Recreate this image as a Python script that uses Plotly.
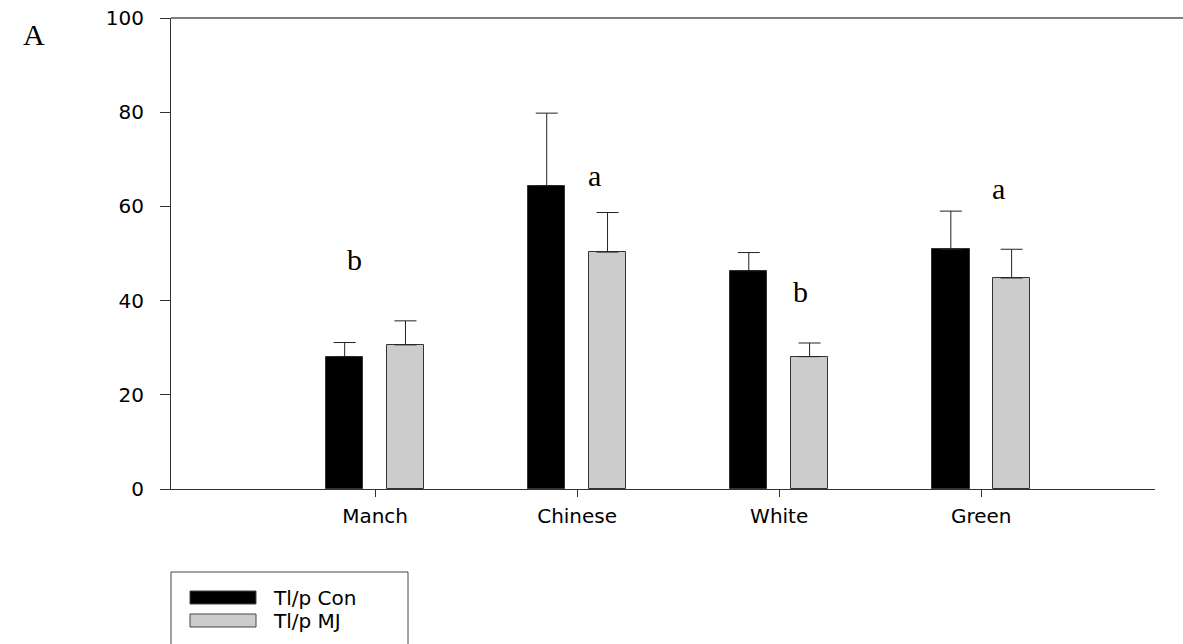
import plotly.graph_objects as go

categories = ["Manch", "Chinese", "White", "Green"]
series_names = ["Tl/p Con", "Tl/p MJ"]
con_values = [28.1, 64.4, 46.3, 50.9]
con_errors = [3.0, 15.4, 3.9, 8.1]
mj_values = [30.6, 50.3, 28.1, 44.8]
mj_errors = [5.1, 8.4, 2.9, 6.1]
letters = ["b", "a", "b", "a"]
letter_x_shift = [-0.1, 0.085, 0.105, 0.085]
letter_y = [48.7, 66.6, 42.0, 63.9]

colors = ["#000000", "#cccccc"]
tick_font = dict(family="DejaVu Sans", size=20, color="#000")

W, H = 1183, 644
L, R, T, B = 171, 28, 18, 155
pw, ph = W - L - R, H - T - B


def px(xp):
    return (xp - L) / pw


def py(yp):
    return (H - B - yp) / ph


fig = go.Figure()
for name, vals, errs, col, off in [
    (series_names[0], con_values, con_errors, colors[0], -0.243),
    (series_names[1], mj_values, mj_errors, colors[1], 0.058),
]:
    fig.add_trace(go.Bar(
        x=categories, y=vals, name=name,
        width=0.185, offset=off,
        marker=dict(color=col, line=dict(color="#333", width=1)),
        error_y=dict(type="data", array=errs, arrayminus=[0] * len(errs),
                     symmetric=False, color="#222", thickness=1, width=11),
        showlegend=False,
    ))

for i, (lt, dx, ly) in enumerate(zip(letters, letter_x_shift, letter_y)):
    fig.add_annotation(x=i + dx, y=ly, text=lt, showarrow=False,
                       xref="x", yref="y",
                       font=dict(family="Liberation Serif", size=30, color="#000"))

# panel label
fig.add_annotation(x=px(21), y=py(16), xref="paper", yref="paper", text="A", showarrow=False,
                   font=dict(family="Liberation Serif", size=30, color="#000"))

shapes = []
# top frame line extending to the right edge
shapes.append(dict(type="line", xref="paper", yref="paper", x0=0, x1=px(1183), y0=1, y1=1,
                   line=dict(color="#555", width=1.5)))
# custom legend
shapes.append(dict(type="rect", xref="paper", yref="paper", x0=px(171), x1=px(408),
                   y0=py(660), y1=py(572), line=dict(color="#444", width=1), fillcolor="rgba(0,0,0,0)"))
for j, (nm, col) in enumerate(zip(series_names, colors)):
    y0 = 591 + j * 23
    shapes.append(dict(type="rect", xref="paper", yref="paper", x0=px(190), x1=px(256),
                       y0=py(y0 + 13), y1=py(y0), line=dict(color="#444", width=1), fillcolor=col))
    fig.add_annotation(x=px(271), y=py(y0 + 6.5), xref="paper", yref="paper", text=nm,
                       showarrow=False, xanchor="left", yanchor="middle",
                       font=tick_font)

fig.update_layout(
    width=W, height=H,
    margin=dict(l=L, r=R, t=T, b=B),
    paper_bgcolor="white", plot_bgcolor="white",
    shapes=shapes,
    bargap=0,
    xaxis=dict(type="category", range=[-1.01, 3.86], showline=True, linecolor="#333", linewidth=1,
               ticks="outside", ticklen=7, tickcolor="#333", tickfont=tick_font,
               showgrid=False, zeroline=False, ticklabelstandoff=2, automargin=False),
    yaxis=dict(range=[0, 100], tickvals=[0, 20, 40, 60, 80, 100], showline=True, linecolor="#333",
               linewidth=1, ticks="outside", ticklen=10, tickcolor="#333", tickfont=tick_font,
               showgrid=False, zeroline=False, ticklabelstandoff=12, automargin=False),
)

fig.write_html("out.html")
